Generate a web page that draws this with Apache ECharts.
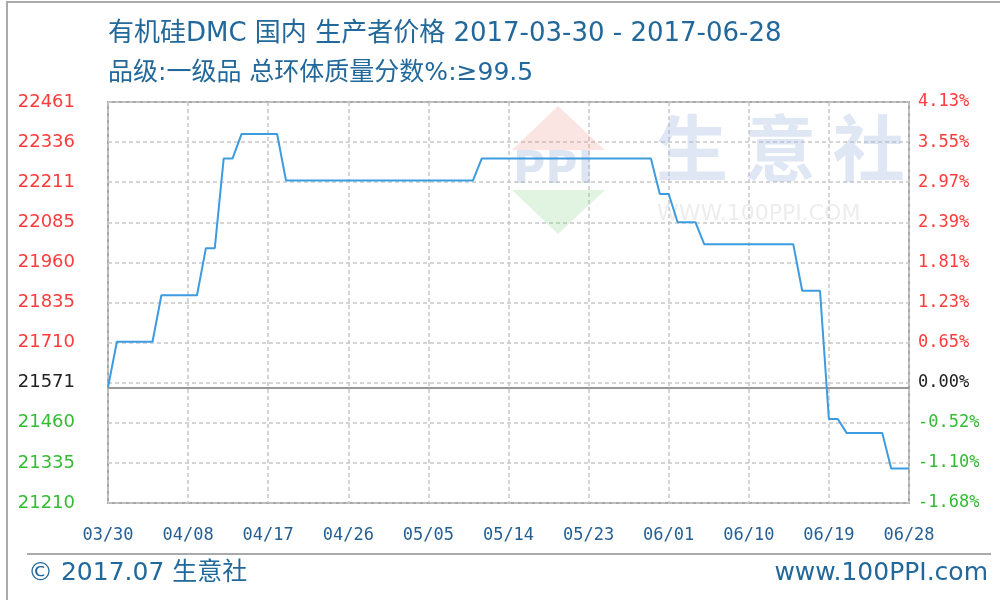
<!DOCTYPE html>
<html>
<head>
<meta charset="utf-8">
<title>有机硅DMC 国内 生产者价格</title>
<script src="https://cdn.jsdelivr.net/npm/echarts@6/dist/echarts.min.js"></script>
<style>
  html, body { margin: 0; padding: 0; background: #fff; }
  #chart { width: 1000px; height: 600px; }
</style>
</head>
<body>
<div id="chart"></div>
<script>
// 基准价格 (0.00%)
const basePrice = 21571;
const startDate = "2017-03-30";
const dayCount = 91;

// 每日价格 03/30 - 06/28
const prices = [
  21571,
  21713, 21713, 21713, 21713, 21713,
  21858, 21858, 21858, 21858, 21858,
  22005, 22005,
  22285, 22285,
  22361, 22361, 22361, 22361, 22361,
  22216, 22216, 22216, 22216, 22216, 22216, 22216, 22216, 22216, 22216, 22216,
  22216, 22216, 22216, 22216, 22216, 22216, 22216, 22216, 22216, 22216, 22216,
  22285, 22285, 22285, 22285, 22285, 22285, 22285, 22285, 22285, 22285,
  22285, 22285, 22285, 22285, 22285, 22285, 22285, 22285, 22285, 22285,
  22174, 22174,
  22086, 22086, 22086,
  22017, 22017, 22017, 22017, 22017, 22017, 22017, 22017, 22017, 22017, 22017,
  21872, 21872, 21872,
  21472, 21472,
  21428, 21428, 21428, 21428, 21428,
  21318, 21318, 21318
];

// 坐标轴刻度文字 (从下到上)
const yMin = 21210;
const yMax = 22461;
const leftLabels = ["21210", "21335", "21460", "21571", "21710", "21835", "21960", "22085", "22211", "22336", "22461"];
const rightLabels = ["-1.68%", "-1.10%", "-0.52%", "0.00%", "0.65%", "1.23%", "1.81%", "2.39%", "2.97%", "3.55%", "4.13%"];
const baseIndex = 3;

// 日期
const dates = [];
(function () {
  const d = new Date(startDate + "T00:00:00Z");
  for (let i = 0; i < dayCount; i++) {
    const m = String(d.getUTCMonth() + 1).padStart(2, "0");
    const dd = String(d.getUTCDate()).padStart(2, "0");
    dates.push(m + "/" + dd);
    d.setUTCDate(d.getUTCDate() + 1);
  }
})();

const blue = "#22689a";
function labelColor(value, index) {
  if (index < baseIndex) return "#33bb33";
  if (index === baseIndex) return "#222";
  return "#ff3b3b";
}

let myChart = echarts.init(document.getElementById("chart"), null, { renderer: "canvas" });
myChart.setOption({
  animation: false,
  backgroundColor: "#fff",
  title: [
    {
      text: "有机硅DMC 国内 生产者价格 2017-03-30 - 2017-06-28",
      left: 103,
      top: 16,
      textStyle: { color: blue, fontSize: 26, fontWeight: "normal", fontFamily: "DejaVu Sans, Noto Sans CJK SC" }
    },
    {
      text: "品级:一级品 总环体质量分数%:≥99.5",
      left: 103,
      top: 56,
      textStyle: { color: blue, fontSize: 25, fontWeight: "normal", fontFamily: "DejaVu Sans, Noto Sans CJK SC" }
    }
  ],
  graphic: [
    // 外框
    { type: "polyline", shape: { points: [[7, 600], [7, 2], [1000, 2]] }, style: { stroke: "#aaa", lineWidth: 2, fill: null }, z: 0 },
    // 底部分隔线
    { type: "line", shape: { x1: 27, y1: 554, x2: 991, y2: 554 }, style: { stroke: "#aaa", lineWidth: 2 } },
    {
      type: "text", left: 28, top: 561,
      style: { text: "© 2017.07 生意社", fill: blue, fontSize: 25, fontFamily: "DejaVu Sans, Noto Sans CJK SC" }
    },
    {
      type: "text", right: 12, top: 561,
      style: { text: "www.100PPI.com", fill: blue, fontSize: 25, fontFamily: "DejaVu Sans" }
    },
    // 水印
    { type: "polygon", shape: { points: [[558, 106], [605, 150], [512, 150]] }, style: { fill: "rgba(240,150,140,0.25)" }, z: 1 },
    { type: "polygon", shape: { points: [[512, 190], [605, 190], [558, 234]] }, style: { fill: "rgba(120,200,120,0.22)" }, z: 1 },
    {
      type: "text", left: 513, top: 150, z: 1,
      style: { text: "PPI", fill: "rgba(150,175,215,0.32)", fontSize: 44, fontWeight: "bold", fontFamily: "DejaVu Sans" }
    },
    {
      type: "text", left: 656, top: 112, z: 1,
      style: { text: "生 意 社", fill: "rgba(160,185,220,0.35)", fontSize: 72, fontWeight: "bold", fontFamily: "Noto Sans CJK SC" }
    },
    {
      type: "text", left: 657, top: 203, z: 1,
      style: { text: "WWW.100PPI.COM", fill: "rgba(200,200,200,0.32)", fontSize: 22, fontFamily: "DejaVu Sans" }
    }
  ],
  grid: {
    left: 108,
    right: 91,
    top: 102,
    bottom: 97,
    show: true,
    borderColor: "#a8a8a8",
    borderWidth: 2,
    backgroundColor: "transparent"
  },
  xAxis: {
    type: "category",
    boundaryGap: false,
    data: dates,
    axisLine: { show: false },
    axisTick: { show: false },
    axisLabel: {
      interval: 8,
      margin: 24,
      color: "#245f94",
      fontSize: 17,
      fontFamily: "DejaVu Sans Mono"
    },
    splitLine: {
      show: true,
      interval: 8,
      lineStyle: { color: "#c8c8c8", type: [4, 3], width: 1.5 }
    }
  },
  yAxis: [
    {
      type: "value",
      min: yMin,
      max: yMax,
      interval: (yMax - yMin) / 10,
      position: "left",
      axisLine: { show: false },
      axisTick: { show: false },
      axisLabel: {
        margin: 33,
        fontSize: 18,
        fontFamily: "DejaVu Sans",
        formatter: function (v, i) { return leftLabels[i]; },
        color: labelColor
      },
      splitLine: { show: true, lineStyle: { color: "#c8c8c8", type: [4, 3], width: 1.5 } }
    },
    {
      type: "value",
      min: yMin,
      max: yMax,
      interval: (yMax - yMin) / 10,
      position: "right",
      axisLine: { show: false },
      axisTick: { show: false },
      axisLabel: {
        margin: 9,
        fontSize: 17,
        fontFamily: "DejaVu Sans Mono",
        formatter: function (v, i) { return rightLabels[i]; },
        color: labelColor
      },
      splitLine: { show: false }
    }
  ],
  series: [
    {
      name: "价格",
      type: "line",
      data: prices,
      showSymbol: false,
      symbol: "none",
      lineStyle: { color: "#3d9be0", width: 2 },
      z: 5,
      markLine: {
        silent: true,
        symbol: ["none", "none"],
        label: { show: false },
        lineStyle: { color: "#999", type: "solid", width: 2 },
        data: [{ yAxis: basePrice }],
        z: 3
      }
    }
  ]
});
</script>
</body>
</html>
